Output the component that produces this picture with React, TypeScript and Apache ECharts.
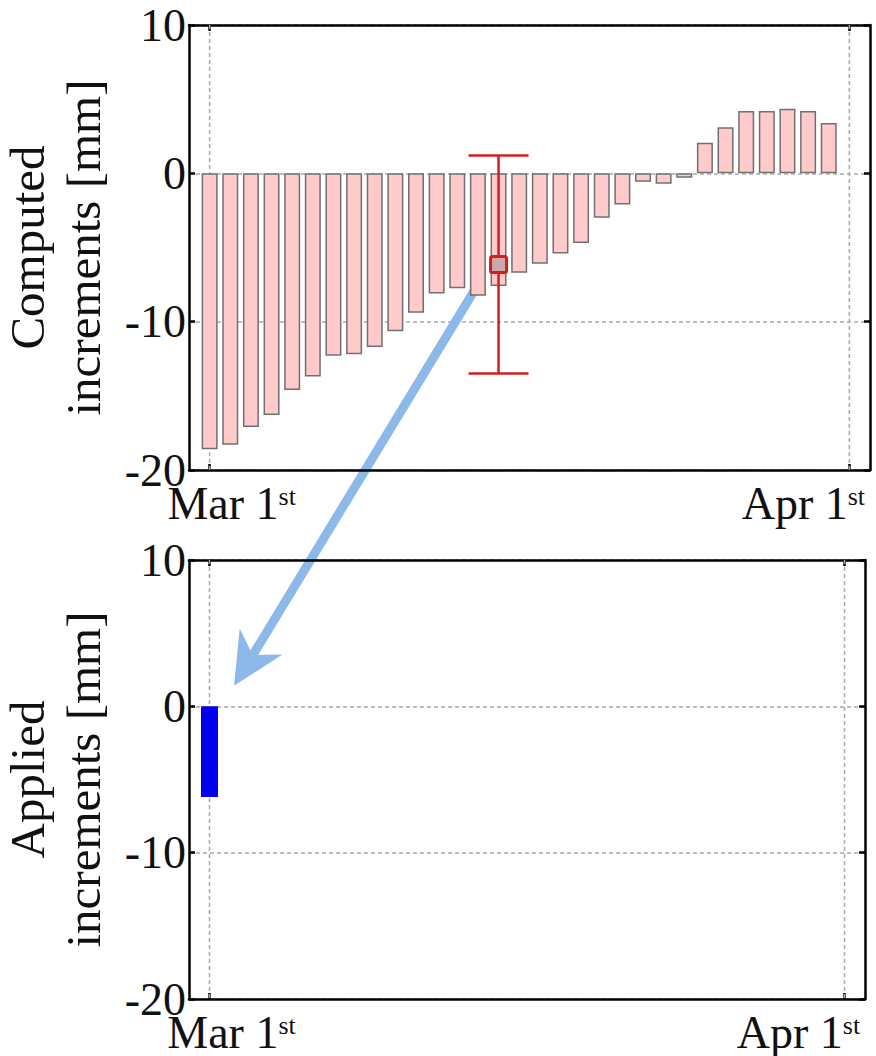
import React, { useEffect, useRef } from "react";
import * as echarts from "echarts";

// Daily computed increments (mm), Mar 1st .. Mar 31st
const computedIncrements = [
  -18.6, -18.3, -17.1, -16.3, -14.6, -13.7, -12.3, -12.2, -11.7, -10.65,
  -9.4, -8.1, -7.75, -8.25, -7.6, -6.7, -6.1, -5.4, -4.7, -3.0,
  -2.1, -0.56, -0.7, -0.3, 2.07, 3.1, 4.2, 4.2, 4.35, 4.2, 3.4,
];
// Applied increments (mm): only the first day
const appliedIncrements = [-6.2];
// Error bar on the computed chart: [day, low, high, centre]
const errorBars = [[14, -13.5, 1.2, -6.15]];
// Date ticks (day index) and their labels
const dateTicks = [0, 31];
const dateLabels = ["Mar 1", "Apr 1"];
// Y axis range / step
const yMin = -20;
const yMax = 10;
const yStep = 10;
const xMin = -1;
const xMax = 32;
// Arrow annotation: from [day, value] in top chart to [day, value] in bottom chart
const arrowFrom = [13, -7.5];
const arrowTo = [1.2, 1.4];

const FONT = "Liberation Serif";
const TICK_SIZE = 46;

export default function App() {
  const ref = useRef<HTMLDivElement>(null);

  useEffect(() => {
    if (!ref.current) return;
    const chart = echarts.init(ref.current, undefined, { renderer: "svg" });

    const frameLine = { show: true, onZero: false, lineStyle: { color: "#000", width: 2.5 } };
    const tickIn = { show: true, inside: true, length: 6, lineStyle: { color: "#000", width: 2.5 } };

    const xLabelRich = {
      m: { fontFamily: FONT, fontSize: TICK_SIZE, color: "#111", lineHeight: 40, padding: [0, 0, 0, 44] },
      a: { fontFamily: FONT, fontSize: TICK_SIZE, color: "#111", lineHeight: 40 },
      s: { fontFamily: FONT, fontSize: 26, color: "#111", lineHeight: 24, verticalAlign: "top" },
      sa: { fontFamily: FONT, fontSize: 26, color: "#111", lineHeight: 24, verticalAlign: "top", padding: [0, 92, 0, 0] },
    };
    const xLabelFormatter = (v: number) => {
      const i = dateTicks.indexOf(v);
      if (i === 0) return `{m|${dateLabels[0]}}{s|st}`;
      return `{a|${dateLabels[i]}}{sa|st}`;
    };

    const makeX = (gridIndex: number, bottom: boolean) => ({
      type: "value",
      gridIndex,
      position: bottom ? "bottom" : "top",
      min: xMin,
      max: xMax,
      axisLine: frameLine,
      axisTick: { ...tickIn, customValues: dateTicks },
      axisLabel: bottom
        ? { show: true, customValues: dateTicks, margin: 13, formatter: xLabelFormatter, rich: xLabelRich }
        : { show: false },
      splitLine: { show: false },
    });

    const makeY = (gridIndex: number, left: boolean, name: string) => ({
      type: "value",
      gridIndex,
      position: left ? "left" : "right",
      min: yMin,
      max: yMax,
      interval: yStep,
      axisLine: frameLine,
      axisTick: tickIn,
      axisLabel: left
        ? { show: true, margin: 3, fontFamily: FONT, fontSize: TICK_SIZE, lineHeight: 26, color: "#111" }
        : { show: false },
      splitLine: left
        ? { show: true, lineStyle: { color: "#aaa", width: 1.5, type: [4, 3] } }
        : { show: false },
      name: left ? name : "",
      nameLocation: "middle",
      nameRotate: 90,
      nameGap: 78,
      nameTextStyle: { fontFamily: FONT, fontSize: 49, lineHeight: 56, color: "#111" },
    });

    const vGridSeries = (xAxisIndex: number, yAxisIndex: number) => ({
      type: "custom",
      xAxisIndex,
      yAxisIndex,
      z: 1,
      silent: true,
      data: dateTicks,
      renderItem: (params: any, api: any) => {
        const d = api.value(0);
        const p1 = api.coord([d, yMax]);
        const p2 = api.coord([d, yMin]);
        return {
          type: "line",
          shape: { x1: p1[0], y1: p1[1], x2: p2[0], y2: p2[1] },
          style: { stroke: "#aaa", lineWidth: 1.5, lineDash: [4, 3] },
        };
      },
    });

    const option: any = {
      animation: false,
      backgroundColor: "#fff",
      grid: [
        { left: 189, top: 25, width: 681, height: 445, containLabel: false, outerBoundsMode: "none" },
        { left: 189, top: 560, width: 676, height: 439, containLabel: false, outerBoundsMode: "none" },
      ],
      xAxis: [makeX(0, true), makeX(0, false), makeX(1, true), makeX(1, false)],
      yAxis: [
        makeY(0, true, "Computed\nincrements [mm]"),
        makeY(0, false, ""),
        makeY(1, true, "Applied\nincrements [mm]"),
        makeY(1, false, ""),
      ],
      series: [
        vGridSeries(0, 0),
        {
          type: "bar",
          xAxisIndex: 0,
          yAxisIndex: 0,
          z: 2,
          barWidth: 16,
          data: computedIncrements.map((v, i) => [i, v]),
          itemStyle: { color: "#ffcaca", borderColor: "#707070", borderWidth: 1.5 },
        },
        {
          type: "custom",
          xAxisIndex: 0,
          yAxisIndex: 0,
          z: 3,
          data: errorBars,
          renderItem: (params: any, api: any) => {
            const x = api.value(0);
            const lo = api.coord([x, api.value(1)]);
            const hi = api.coord([x, api.value(2)]);
            const mid = api.coord([x, api.value(3)]);
            const cap = 30;
            const sq = 16;
            const stroke = { stroke: "#d41e1e", lineWidth: 2.5 };
            return {
              type: "group",
              children: [
                { type: "line", shape: { x1: lo[0], y1: lo[1], x2: hi[0], y2: hi[1] }, style: stroke },
                { type: "line", shape: { x1: lo[0] - cap, y1: lo[1], x2: lo[0] + cap, y2: lo[1] }, style: stroke },
                { type: "line", shape: { x1: hi[0] - cap, y1: hi[1], x2: hi[0] + cap, y2: hi[1] }, style: stroke },
                {
                  type: "rect",
                  shape: { x: mid[0] - sq / 2, y: mid[1] - sq / 2, width: sq, height: sq, r: 2 },
                  style: { fill: "#c9a9a9", stroke: "#d41e1e", lineWidth: 3 },
                },
              ],
            };
          },
        },
        vGridSeries(2, 2),
        {
          type: "bar",
          xAxisIndex: 2,
          yAxisIndex: 2,
          z: 2,
          barWidth: 17,
          data: appliedIncrements.map((v, i) => [i, v]),
          itemStyle: { color: "#0000ee" },
        },
      ],
    };

    chart.setOption(option);

    // Arrow annotation drawn from data positions converted to pixels
    const fx = chart.convertToPixel({ xAxisIndex: 0 }, arrowFrom[0]) as number;
    const fy = chart.convertToPixel({ yAxisIndex: 0 }, arrowFrom[1]) as number;
    const tx = chart.convertToPixel({ xAxisIndex: 2 }, arrowTo[0]) as number;
    const ty = chart.convertToPixel({ yAxisIndex: 2 }, arrowTo[1]) as number;
    const dx = fx - tx;
    const dy = fy - ty;
    const len = Math.sqrt(dx * dx + dy * dy);
    const ux = dx / len;
    const uy = dy / len;
    const px = -uy;
    const py = ux;
    const headLen = 52;
    const headHalf = 25;
    const notch = 36;
    const bx = tx + ux * headLen;
    const by = ty + uy * headLen;
    const nx = tx + ux * notch;
    const ny = ty + uy * notch;
    const arrowColor = "#8cb8ea";
    chart.setOption({
      graphic: [
        {
          type: "group",
          z: 100,
          children: [
            {
              type: "line",
              shape: { x1: fx, y1: fy, x2: nx, y2: ny },
              style: { stroke: arrowColor, lineWidth: 9 },
            },
            {
              type: "polygon",
              shape: {
                points: [
                  [tx, ty],
                  [bx + px * headHalf, by + py * headHalf],
                  [nx, ny],
                  [bx - px * headHalf, by - py * headHalf],
                ],
              },
              style: { fill: arrowColor },
            },
          ],
        },
      ],
    });

    return () => chart.dispose();
  }, []);

  return (
    <div
      ref={ref}
      style={{ position: "fixed", left: 0, top: 0, width: 876, height: 1056, background: "#fff" }}
    />
  );
}
